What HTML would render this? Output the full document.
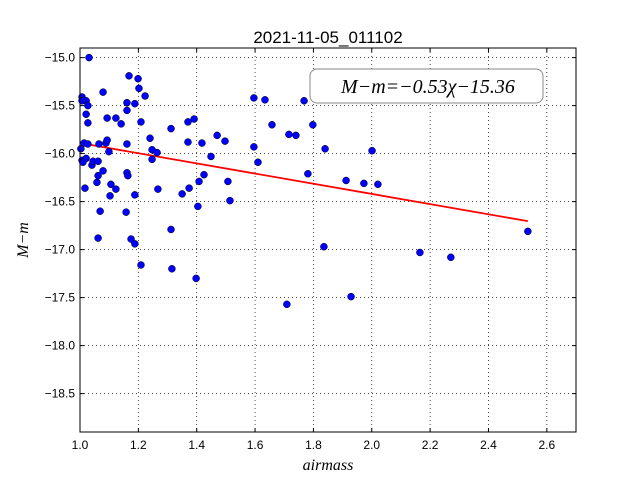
<!DOCTYPE html>
<html><head><meta charset="utf-8"><style>
html,body{margin:0;padding:0;background:#fff;}
svg text{font-family:"Liberation Sans",sans-serif;}
</style></head><body>
<svg id="chart" width="640" height="480" xmlns="http://www.w3.org/2000/svg">
<rect width="640" height="480" fill="#fff"/>
<text x="328" y="43" font-size="17" text-anchor="middle">2021-11-05_011102</text>
<g id="grid"></g>
<g id="ticks"></g>
<polyline id="fit" fill="none" stroke="#ff0000" stroke-width="1.8"/>
<g id="pts"></g>
<rect x="80" y="48" width="496" height="384" fill="none" stroke="#000" stroke-width="1"/>
<g>
<rect x="310" y="69" width="233" height="34" rx="7" fill="#fff" stroke="#888" stroke-width="1"/>
<text x="428" y="93" font-size="20" text-anchor="middle" style="font-family:'Liberation Serif',serif;font-style:italic">M−m=−0.53χ−15.36</text>
</g>
<text x="328" y="470" font-size="16" text-anchor="middle" style="font-family:'Liberation Serif',serif;font-style:italic">airmass</text>
<text x="0" y="0" font-size="16" text-anchor="middle" transform="translate(28,240) rotate(-90)" style="font-family:'Liberation Serif',serif;font-style:italic">M−m</text>
</svg>
<script>
const xTicks=[1.0,1.2,1.4,1.6,1.8,2.0,2.2,2.4,2.6];
const yTicks=[-15.0,-15.5,-16.0,-16.5,-17.0,-17.5,-18.0,-18.5];
const slope=-0.53, intercept=-15.36;
const fitRange=[1.0,2.535];
const airmass=[1.031,1.168,1.199,1.202,1.223,1.079,1.007,1.021,1.007,1.027,1.161,1.161,1.188,1.021,1.027,1.093,1.123,1.141,1.209,1.312,1.370,1.391,1.240,1.014,1.027,1.065,1.089,1.093,1.161,1.003,1.099,1.247,1.264,1.247,1.370,1.418,1.470,1.497,1.449,1.007,1.021,1.010,1.041,1.045,1.062,1.079,1.062,1.058,1.161,1.164,1.106,1.123,1.103,1.017,1.188,1.267,1.350,1.374,1.425,1.408,1.507,1.514,1.404,1.069,1.158,1.312,1.062,1.175,1.188,1.209,1.315,1.398,1.596,1.634,1.768,1.658,1.716,1.740,1.798,1.596,1.610,1.840,1.781,1.912,1.836,1.709,1.929,2.001,1.973,2.021,2.165,2.271,2.535];
const mag=[-15.00,-15.19,-15.22,-15.32,-15.40,-15.36,-15.41,-15.45,-15.45,-15.50,-15.47,-15.55,-15.48,-15.59,-15.68,-15.63,-15.63,-15.69,-15.67,-15.74,-15.67,-15.64,-15.84,-15.89,-15.90,-15.90,-15.89,-15.86,-15.90,-15.95,-15.98,-15.96,-15.99,-16.06,-15.88,-15.89,-15.81,-15.87,-16.03,-16.07,-16.05,-16.09,-16.12,-16.08,-16.08,-16.18,-16.23,-16.30,-16.20,-16.23,-16.32,-16.37,-16.44,-16.36,-16.43,-16.37,-16.42,-16.36,-16.22,-16.29,-16.29,-16.49,-16.55,-16.60,-16.61,-16.79,-16.88,-16.89,-16.94,-17.16,-17.20,-17.30,-15.42,-15.44,-15.45,-15.70,-15.80,-15.81,-15.70,-15.93,-16.09,-15.95,-16.21,-16.28,-16.97,-17.57,-17.49,-15.97,-16.31,-16.32,-17.03,-17.08,-16.81];
const X0=80,X1=576,Y0=48,Y1=432,xmin=1.0,xmax=2.7,ymax=-14.9,ymin=-18.9;
const sx=v=>X0+(v-xmin)/(xmax-xmin)*(X1-X0);
const sy=v=>Y0+(ymax-v)/(ymax-ymin)*(Y1-Y0);
const NS="http://www.w3.org/2000/svg";
const grid=document.getElementById('grid'),ticks=document.getElementById('ticks'),pts=document.getElementById('pts');
function mk(tag,attrs,parent){const e=document.createElementNS(NS,tag);for(const k in attrs)e.setAttribute(k,attrs[k]);parent.appendChild(e);return e;}
const fmt=v=>(v<0?'−':'')+Math.abs(v).toFixed(1);
xTicks.forEach(t=>{const x=sx(t);
const g=mk('line',{x1:x,x2:x,y1:Y0,y2:Y1,stroke:'#000','stroke-dasharray':'1,3','stroke-width':0.7},grid);


mk('line',{x1:x,x2:x,y1:Y1,y2:Y1-4,stroke:'#000'},ticks);
mk('line',{x1:x,x2:x,y1:Y0,y2:Y0+4,stroke:'#000'},ticks);
const l=mk('text',{x:x,y:Y1+17,'font-size':12,'text-anchor':'middle'},ticks);l.textContent=t.toFixed(1);

});
yTicks.forEach(t=>{const y=sy(t);
const g=mk('line',{x1:X0,x2:X1,y1:y,y2:y,stroke:'#000','stroke-dasharray':'1,3','stroke-width':0.7},grid);


mk('line',{x1:X0,x2:X0+4,y1:y,y2:y,stroke:'#000'},ticks);
mk('line',{x1:X1,x2:X1-4,y1:y,y2:y,stroke:'#000'},ticks);
const l=mk('text',{x:X0-5,y:y+4,'font-size':12,'text-anchor':'end'},ticks);l.textContent=fmt(t);

});
document.getElementById('fit').setAttribute('points',fitRange.map(a=>sx(a)+','+sy(slope*a+intercept)).join(' '));
airmass.forEach((a,i)=>{const c=mk('circle',{cx:sx(a),cy:sy(mag[i]),r:3.5,fill:'#0000ff',stroke:'#000','stroke-width':0.5},pts);

});
</script>
</body></html>
